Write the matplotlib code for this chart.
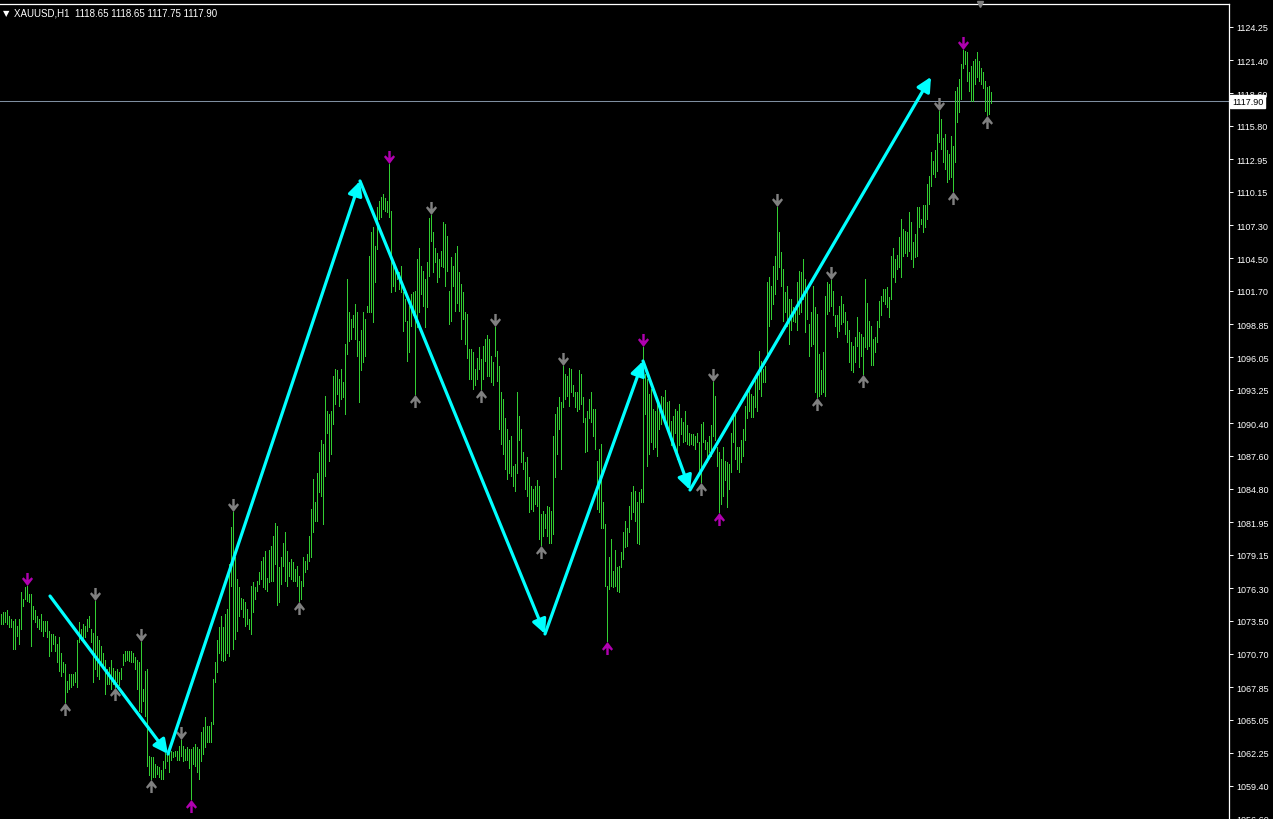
"""XAUUSD H1 bar chart with fractal arrows and a cyan zigzag, MT4 style."""

import matplotlib
matplotlib.use("Agg")
import matplotlib.pyplot as plt
import numpy as np
from matplotlib.path import Path
from matplotlib.transforms import blended_transform_factory

# ---- data: H1 bars (index 0 = leftmost visible bar) ----
bar_high = [
    1074.1, 1074.3, 1074.3, 1074.4, 1073.9, 1073.7, 1073.5, 1073.7, 1073.1, 1073.7,
    1076.0, 1075.4, 1076.4, 1076.5, 1075.8, 1075.8, 1074.8, 1074.4, 1073.9, 1073.7,
    1074.1, 1073.5, 1073.5, 1073.5, 1072.6, 1072.4, 1072.4, 1072.2, 1071.5, 1072.1,
    1070.8, 1070.0, 1069.8, 1068.4, 1069.0, 1069.0, 1069.0, 1069.1, 1071.9, 1073.4,
    1072.8, 1073.2, 1073.1, 1073.7, 1073.9, 1072.8, 1072.5, 1075.2, 1072.2, 1071.9,
    1071.4, 1070.8, 1070.2, 1069.4, 1069.6, 1070.2, 1069.5, 1069.2, 1069.4, 1069.1,
    1069.5, 1070.7, 1070.9, 1070.9, 1070.9, 1070.9, 1070.8, 1070.4, 1070.2, 1070.0,
    1071.7, 1067.7, 1069.2, 1069.4, 1062.0, 1061.9, 1061.9, 1061.3, 1061.1, 1061.0,
    1060.8, 1061.5, 1062.2, 1062.3, 1062.4, 1062.4, 1062.3, 1062.4, 1062.4, 1062.8,
    1063.3, 1062.8, 1062.6, 1062.7, 1062.6, 1062.6, 1062.7, 1063.0, 1062.7, 1062.6,
    1064.0, 1064.4, 1065.3, 1064.5, 1064.5, 1064.9, 1068.5, 1070.0, 1071.9, 1073.0,
    1073.9, 1073.0, 1074.1, 1074.5, 1078.4, 1081.5, 1082.8, 1079.0, 1077.1, 1076.4,
    1075.5, 1075.4, 1075.1, 1074.5, 1073.7, 1076.5, 1076.8, 1076.4, 1076.9, 1077.7,
    1078.6, 1079.0, 1079.5, 1077.2, 1079.6, 1079.9, 1080.8, 1081.9, 1081.6, 1078.1,
    1079.0, 1080.2, 1081.1, 1079.5, 1078.5, 1078.8, 1078.5, 1077.9, 1078.2, 1077.3,
    1076.9, 1079.0, 1078.6, 1079.2, 1080.8, 1083.1, 1085.6, 1083.7, 1086.1, 1087.9,
    1089.0, 1088.6, 1092.7, 1091.4, 1091.2, 1091.4, 1094.4, 1095.0, 1094.9, 1094.2,
    1095.0, 1093.9, 1097.2, 1102.7, 1099.9, 1099.3, 1099.6, 1100.6, 1099.9, 1097.4,
    1098.4, 1099.9, 1099.3, 1100.4, 1104.7, 1106.7, 1107.2, 1105.5, 1108.9, 1109.4,
    1109.7, 1110.0, 1109.6, 1109.4, 1112.5, 1108.5, 1104.3, 1103.8, 1103.4, 1103.3,
    1103.8, 1101.6, 1101.0, 1099.1, 1100.4, 1101.4, 1101.6, 1101.7, 1104.4, 1105.4,
    1103.8, 1103.4, 1102.7, 1104.2, 1107.9, 1108.2, 1106.7, 1105.4, 1104.9, 1104.4,
    1105.1, 1107.6, 1107.4, 1106.4, 1101.7, 1104.6, 1103.8, 1104.9, 1105.5, 1103.3,
    1102.3, 1101.6, 1099.9, 1099.7, 1096.7, 1096.7, 1096.5, 1095.0, 1096.0, 1096.9,
    1095.9, 1097.0, 1097.6, 1097.9, 1097.6, 1096.1, 1095.6, 1098.6, 1096.6, 1095.3,
    1093.1, 1092.5, 1090.8, 1089.9, 1089.0, 1089.3, 1086.7, 1086.9, 1093.1, 1091.0,
    1089.9, 1087.9, 1087.1, 1087.5, 1085.8, 1085.0, 1084.8, 1085.0, 1085.5, 1085.0,
    1082.6, 1082.9, 1082.6, 1083.3, 1083.2, 1082.9, 1089.3, 1091.2, 1091.8, 1092.6,
    1092.2, 1095.3, 1094.6, 1094.4, 1095.1, 1095.0, 1093.7, 1093.1, 1093.1, 1094.9,
    1094.6, 1092.6, 1090.8, 1091.4, 1092.5, 1093.1, 1091.6, 1091.6, 1087.2, 1088.2,
    1088.6, 1083.7, 1081.8, 1076.5, 1079.0, 1080.5, 1077.8, 1079.6, 1078.1, 1078.2,
    1079.4, 1081.1, 1082.0, 1081.4, 1083.3, 1084.5, 1085.0, 1084.6, 1083.7, 1084.5,
    1084.8, 1096.9, 1094.6, 1094.2, 1092.9, 1093.3, 1091.6, 1091.4, 1092.3, 1091.9,
    1092.7, 1092.6, 1093.2, 1092.2, 1092.3, 1090.6, 1091.0, 1091.6, 1091.4, 1092.0,
    1090.8, 1090.5, 1091.4, 1090.2, 1089.6, 1089.5, 1089.5, 1089.3, 1089.6, 1088.8,
    1090.3, 1090.5, 1089.0, 1088.8, 1089.3, 1090.2, 1093.9, 1092.7, 1088.4, 1087.9,
    1087.3, 1088.4, 1087.2, 1087.1, 1086.9, 1089.6, 1091.0, 1091.4, 1088.4, 1088.4,
    1089.0, 1089.9, 1091.9, 1093.1, 1093.5, 1092.9, 1092.7, 1094.2, 1094.8, 1096.6,
    1095.7, 1095.0, 1095.3, 1102.5, 1102.9, 1102.1, 1103.8, 1104.7, 1108.9, 1106.7,
    1105.0, 1103.6, 1101.6, 1102.1, 1101.0, 1101.0, 1100.3, 1100.2, 1102.5, 1103.4,
    1103.3, 1104.4, 1102.7, 1101.9, 1098.9, 1099.9, 1102.1, 1100.3, 1099.7, 1096.3,
    1094.9, 1096.5, 1101.3, 1102.5, 1102.3, 1102.6, 1101.7, 1099.6, 1099.6, 1100.4,
    1101.3, 1100.6, 1099.9, 1099.1, 1098.4, 1097.3, 1097.0, 1097.8, 1099.5, 1098.2,
    1098.0, 1097.8, 1102.7, 1100.7, 1099.1, 1098.7, 1097.6, 1097.8, 1099.1, 1100.8,
    1101.3, 1101.9, 1101.9, 1102.0, 1101.2, 1104.7, 1105.4, 1104.4, 1104.8, 1106.3,
    1107.8, 1107.0, 1106.8, 1106.7, 1108.4, 1107.6, 1105.9, 1106.6, 1108.9, 1108.9,
    1107.8, 1109.0, 1109.0, 1110.8, 1111.5, 1113.6, 1112.8, 1113.7, 1115.1, 1117.1,
    1116.4, 1114.8, 1115.1, 1113.7, 1113.4, 1114.9, 1114.1, 1118.8, 1119.1, 1119.8,
    1121.1, 1122.3, 1122.2, 1122.1, 1120.4, 1120.9, 1121.3, 1121.5, 1122.1, 1121.3,
    1120.7, 1120.4, 1119.6, 1119.1, 1119.2, 1118.65,
]
bar_low = [
    1073.2, 1073.2, 1073.4, 1073.2, 1073.0, 1073.0, 1071.1, 1071.1, 1072.2, 1071.5,
    1072.8, 1074.8, 1075.4, 1075.2, 1075.1, 1071.4, 1073.7, 1073.4, 1073.0, 1072.8,
    1072.6, 1072.2, 1072.6, 1072.1, 1070.5, 1070.9, 1071.5, 1070.9, 1070.0, 1069.2,
    1068.8, 1069.1, 1066.6, 1067.4, 1067.7, 1067.9, 1068.0, 1068.3, 1067.9, 1071.7,
    1071.9, 1071.8, 1072.1, 1072.6, 1073.0, 1071.7, 1068.3, 1069.4, 1068.8, 1068.5,
    1070.0, 1069.4, 1067.3, 1068.1, 1068.1, 1067.7, 1068.1, 1067.9, 1068.3, 1068.0,
    1068.5, 1069.7, 1070.1, 1070.2, 1070.1, 1070.0, 1070.0, 1069.4, 1067.7, 1065.8,
    1065.7, 1066.7, 1065.4, 1061.1, 1060.3, 1060.0, 1060.2, 1060.2, 1060.4, 1060.2,
    1060.0, 1060.0, 1060.9, 1061.5, 1060.6, 1061.6, 1061.9, 1062.0, 1061.6, 1061.6,
    1062.0, 1061.5, 1061.6, 1061.6, 1060.9, 1058.3, 1061.3, 1061.1, 1060.6, 1060.0,
    1061.5, 1062.1, 1062.7, 1063.2, 1063.2, 1063.2, 1064.7, 1068.3, 1069.1, 1070.8,
    1070.2, 1070.1, 1070.2, 1070.8, 1070.5, 1076.5, 1071.1, 1072.0, 1072.6, 1073.9,
    1074.5, 1073.8, 1073.1, 1073.2, 1072.8, 1072.4, 1074.3, 1075.4, 1076.1, 1076.7,
    1077.1, 1076.4, 1076.2, 1076.1, 1076.8, 1076.9, 1076.9, 1078.4, 1074.9, 1075.1,
    1076.7, 1078.2, 1076.9, 1076.5, 1077.3, 1077.1, 1076.9, 1076.9, 1076.5, 1075.2,
    1075.4, 1076.5, 1077.7, 1077.9, 1078.6, 1079.0, 1081.1, 1082.0, 1082.0, 1084.5,
    1084.2, 1081.8, 1085.9, 1089.6, 1087.2, 1087.8, 1090.3, 1092.0, 1092.9, 1091.9,
    1092.5, 1092.6, 1091.2, 1096.3, 1097.4, 1097.6, 1098.6, 1097.6, 1096.1, 1092.2,
    1094.9, 1095.6, 1096.1, 1099.9, 1099.9, 1099.9, 1099.0, 1102.5, 1105.3, 1107.8,
    1108.0, 1108.7, 1108.5, 1108.4, 1108.0, 1101.6, 1102.1, 1101.7, 1102.7, 1101.9,
    1101.6, 1098.3, 1099.1, 1095.7, 1096.5, 1098.7, 1099.6, 1092.9, 1098.6, 1099.9,
    1101.4, 1100.4, 1098.6, 1100.3, 1103.0, 1106.0, 1103.3, 1104.2, 1102.5, 1102.9,
    1103.8, 1103.7, 1102.1, 1103.4, 1098.9, 1099.1, 1102.1, 1100.0, 1100.7, 1100.0,
    1097.6, 1099.3, 1097.2, 1096.0, 1094.2, 1094.2, 1093.3, 1093.7, 1094.2, 1095.0,
    1093.3, 1094.2, 1095.7, 1094.4, 1094.4, 1093.9, 1093.7, 1096.1, 1094.0, 1089.9,
    1088.6, 1087.8, 1086.5, 1085.6, 1086.1, 1085.9, 1085.0, 1084.6, 1086.1, 1089.0,
    1087.1, 1086.5, 1084.8, 1084.2, 1082.8, 1083.1, 1082.9, 1083.5, 1083.3, 1080.5,
    1080.0, 1080.8, 1081.4, 1080.8, 1080.2, 1080.2, 1080.9, 1085.8, 1087.8, 1089.9,
    1086.5, 1091.8, 1092.5, 1092.7, 1091.9, 1093.1, 1092.7, 1091.8, 1091.4, 1091.6,
    1092.0, 1090.5, 1087.9, 1088.0, 1090.8, 1090.5, 1089.3, 1088.2, 1083.1, 1082.8,
    1081.4, 1081.4, 1076.5, 1071.8, 1076.2, 1076.5, 1076.4, 1076.5, 1076.1, 1076.0,
    1078.1, 1078.8, 1079.8, 1079.9, 1081.1, 1082.2, 1082.8, 1082.0, 1080.2, 1080.1,
    1083.7, 1083.7, 1091.2, 1086.7, 1087.8, 1088.8, 1088.2, 1088.4, 1087.6, 1089.9,
    1090.3, 1091.0, 1090.3, 1090.1, 1089.6, 1088.5, 1088.9, 1089.6, 1087.3, 1088.5,
    1089.5, 1088.8, 1088.9, 1088.6, 1088.5, 1088.6, 1088.5, 1088.2, 1088.8, 1086.2,
    1085.4, 1088.8, 1088.2, 1087.1, 1087.9, 1087.6, 1089.3, 1089.0, 1086.7, 1082.8,
    1083.5, 1084.2, 1085.5, 1083.2, 1084.8, 1086.2, 1088.8, 1087.3, 1086.5, 1086.2,
    1087.1, 1087.6, 1089.0, 1090.8, 1091.4, 1090.9, 1090.9, 1091.8, 1091.4, 1093.3,
    1092.7, 1093.9, 1093.9, 1095.9, 1098.7, 1099.3, 1100.6, 1101.4, 1102.7, 1103.7,
    1102.1, 1099.1, 1099.9, 1098.7, 1097.2, 1098.4, 1099.1, 1099.0, 1098.4, 1099.7,
    1099.9, 1101.0, 1098.2, 1099.3, 1096.1, 1097.0, 1097.2, 1093.1, 1092.6, 1092.7,
    1092.9, 1093.1, 1092.7, 1099.7, 1100.0, 1100.4, 1099.6, 1098.7, 1097.8, 1098.3,
    1098.9, 1099.0, 1098.0, 1097.3, 1095.6, 1094.9, 1094.8, 1095.6, 1097.0, 1095.2,
    1096.1, 1094.6, 1096.9, 1096.7, 1097.0, 1095.4, 1095.4, 1096.5, 1097.3, 1098.6,
    1099.6, 1100.8, 1100.6, 1100.3, 1099.5, 1101.0, 1102.9, 1102.5, 1103.6, 1103.7,
    1102.9, 1104.7, 1104.9, 1104.7, 1105.1, 1104.4, 1103.7, 1104.6, 1104.7, 1107.2,
    1107.4, 1106.7, 1107.2, 1107.8, 1109.1, 1110.7, 1111.7, 1111.4, 1111.9, 1114.4,
    1113.8, 1112.7, 1112.1, 1111.0, 1111.3, 1111.4, 1110.2, 1112.7, 1116.1, 1117.0,
    1118.1, 1120.7, 1121.1, 1119.6, 1118.8, 1117.9, 1117.9, 1119.4, 1120.0, 1119.6,
    1119.4, 1119.0, 1117.1, 1116.7, 1116.8, 1117.75,
]

# fractal arrows (bar indices)
fractal_up_magenta = [13, 194, 321, 481]
fractal_up_gray = [47, 70, 90, 116, 215, 247, 281, 356, 388, 415, 469]
fractal_down_magenta = [95, 303, 359]
fractal_down_gray = [32, 57, 75, 149, 207, 240, 270, 350, 408, 431, 476, 493]

# zigzag swing points (bar index, price)
zigzag_bar = [24.5, 83.5, 179.5, 272, 321, 344.5, 465]
zigzag_price = [1075.63, 1062.13, 1111.09, 1072.39, 1095.71, 1084.69, 1119.98]

# right price scale
price_ticks = [1124.25, 1121.40, 1118.60, 1115.80, 1112.95, 1110.15, 1107.30,
               1104.50, 1101.70, 1098.85, 1096.05, 1093.25, 1090.40, 1087.60,
               1084.80, 1081.95, 1079.15, 1076.30, 1073.50, 1070.70, 1067.85,
               1065.05, 1062.25, 1059.40, 1056.60]
last_price = 1117.90
header = "XAUUSD,H1  1118.65 1118.65 1117.75 1117.90"

# ---- figure ----
W, H = 1273, 820
fig = plt.figure(figsize=(W / 100, H / 100), dpi=100, facecolor="black")
ax = fig.add_axes([0, 0, 1229 / W, 815 / H], facecolor="black")
ax.set_xlim(-0.5, 614)
ax.set_ylim(1056.58, 1126.21)

# one 1-px high/low line per bar
bars = np.arange(len(bar_high))
ax.vlines(bars, bar_low, bar_high, colors="#32cd32", lw=0.72,
          antialiased=False, zorder=2)

ax.axhline(last_price, color="#7f8fa0", lw=0.75, zorder=1)

# arrow marker pointing down (shaft on top, chevron head below)
arrow_verts = [(-1.2, 6.5), (1.2, 6.5), (1.2, -0.5), (4.0, 2.2), (5.5, 0.6),
               (0.0, -6.5), (-5.5, 0.6), (-4.0, 2.2), (-1.2, -0.5), (-1.2, 6.5)]
arrow_down = Path(arrow_verts, closed=True)
arrow_up = Path([(x, -y) for x, y in arrow_verts], closed=True)

hi = np.array(bar_high)
lo = np.array(bar_low)
gap = 0.6  # half the marker height, in price units
for idx, col in [(fractal_up_magenta, "#b000b0"), (fractal_up_gray, "#808080")]:
    ax.plot(idx, hi[idx] + gap, ls="none", marker=arrow_down, ms=9.4,
            mfc=col, mec="none", zorder=3)
for idx, col in [(fractal_down_magenta, "#b000b0"), (fractal_down_gray, "#808080")]:
    ax.plot(idx, lo[idx] - gap, ls="none", marker=arrow_up, ms=9.4,
            mfc=col, mec="none", zorder=3)

# zigzag: one arrow per leg
for i in range(len(zigzag_bar) - 1):
    ax.annotate("", xy=(zigzag_bar[i + 1], zigzag_price[i + 1]),
                xytext=(zigzag_bar[i], zigzag_price[i]),
                arrowprops=dict(arrowstyle="-|>,head_length=0.5,head_width=0.25",
                                color="#00ffff", lw=2.3,
                                mutation_scale=17, shrinkA=0, shrinkB=0),
                zorder=4)

# ---- axes cosmetics ----
for side in ["left", "bottom"]:
    ax.spines[side].set_visible(False)
for side in ["top", "right"]:
    ax.spines[side].set_color("white")
    ax.spines[side].set_linewidth(0.9)
ax.set_xticks([])
ax.yaxis.tick_right()
ax.set_yticks(price_ticks)
ax.set_yticklabels([f"{p:.2f}" for p in price_ticks])
ax.tick_params(axis="y", colors="white", length=3, width=0.7, pad=2,
               labelsize=6.5)
for lab in ax.get_yticklabels():
    lab.set_family(["Liberation Sans", "DejaVu Sans"])

# current price box on the scale
trans = blended_transform_factory(ax.transAxes, ax.transData)
ax.text(1.0025, last_price, f"{last_price:.2f}", transform=trans, ha="left",
        va="center", fontsize=6.5, color="black", family="Liberation Sans",
        bbox=dict(boxstyle="square,pad=0.2", fc="white", ec="white"),
        clip_on=False, zorder=10)

# chart shift marker at the top border
ax.plot([0.797], [1.0], transform=ax.transAxes, marker="v", ms=5,
        color="#808080", clip_on=False, zorder=5)

# header line
fig.text(3 / W, 1 - 14 / H, "\u25bc", color="white", fontsize=6,
         va="center", family="DejaVu Sans")
fig.text(14 / W, 1 - 14 / H, header, color="white", fontsize=7,
         va="center", family="Liberation Sans")

fig.savefig("out.png", dpi=100, facecolor="black")
